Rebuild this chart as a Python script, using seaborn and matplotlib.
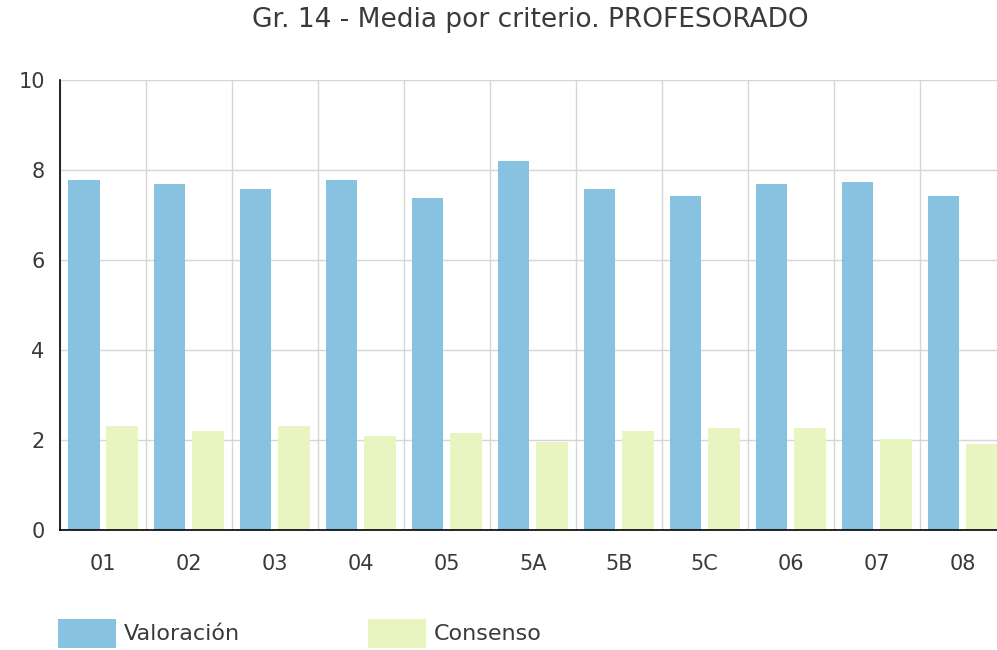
import pandas as pd
import matplotlib
matplotlib.use("Agg")
import matplotlib.pyplot as plt
import seaborn as sns
from matplotlib.ticker import MultipleLocator

# Chart data
criterios = ["01", "02", "03", "04", "05", "5A", "5B", "5C", "06", "07", "08"]
valoracion = [7.78, 7.69, 7.58, 7.78, 7.38, 8.21, 7.58, 7.42, 7.69, 7.73, 7.42]
consenso = [2.32, 2.20, 2.32, 2.08, 2.16, 1.96, 2.20, 2.27, 2.27, 2.03, 1.92]
series = ["Valoración", "Consenso"]
colores = ["#87C3E0", "#E8F5C0"]

df = pd.DataFrame({
    "criterio": criterios * 2,
    "media": valoracion + consenso,
    "serie": [series[0]] * len(criterios) + [series[1]] * len(criterios),
})

sns.set_theme(style="white")
plt.rcParams["font.family"] = ["DejaVu Sans"]

fig = plt.figure(figsize=(9.97, 6.5), dpi=100)
ax = fig.add_axes([0.0602, 0.1846, 0.9398, 0.692])

sns.barplot(data=df, x="criterio", y="media", hue="serie", order=criterios,
            hue_order=series, palette=colores, width=0.895, gap=0.18,
            edgecolor="none", saturation=1, ax=ax, legend=False)

ax.set_ylim(0, 10)
ax.set_xlim(-0.5, 10.4)
ax.yaxis.set_major_locator(MultipleLocator(2))
ax.xaxis.set_minor_locator(MultipleLocator(1, offset=0.5))

ax.grid(True, axis="y", which="major", color="#d6d6d6", linewidth=1)
ax.grid(True, axis="x", which="minor", color="#d6d6d6", linewidth=1)
ax.grid(False, axis="x", which="major")
ax.set_axisbelow(True)

for side in ["top", "right"]:
    ax.spines[side].set_visible(False)
for side in ["left", "bottom"]:
    ax.spines[side].set_color("black")
    ax.spines[side].set_linewidth(1.2)

ax.tick_params(axis="both", which="major", direction="out", length=5, width=1,
               color="black", labelsize=15, labelcolor="#3a3a3a")
ax.tick_params(axis="x", which="major", pad=12)
ax.tick_params(axis="y", which="major", pad=6)
ax.tick_params(axis="x", which="minor", length=0)
ax.set_xlabel("")
ax.set_ylabel("")

fig.text(0.5315, 0.969, "Gr. 14 - Media por criterio. PROFESORADO", ha="center",
         va="center", fontsize=19, color="#3a3a3a")

# one legend entry per box so each sits where the reference puts it
for nombre, color, x0 in zip(series, colores, [0.058, 0.369]):
    handle = plt.Rectangle((0, 0), 1, 1, facecolor=color, edgecolor="none")
    fig.legend([handle], [nombre], loc="center left", bbox_to_anchor=(x0, 0.026),
               frameon=False, fontsize=16, handlelength=2.6, handleheight=1.62,
               handletextpad=0.36, borderpad=0, borderaxespad=0,
               labelcolor="#3a3a3a")

fig.savefig("out.png", dpi=100)
